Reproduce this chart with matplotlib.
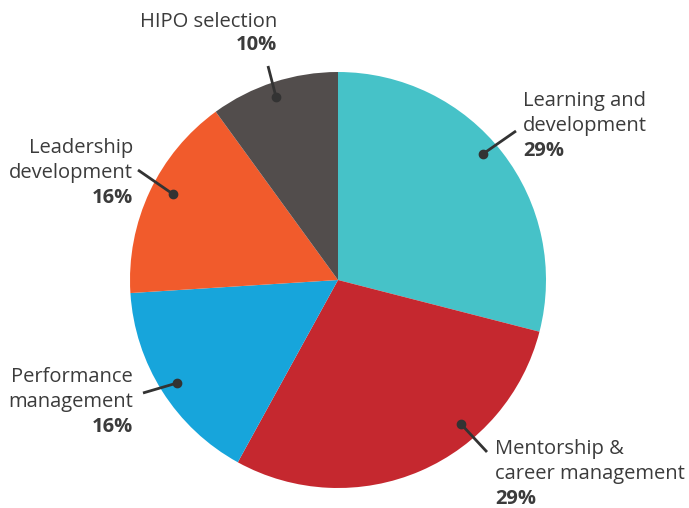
import matplotlib
matplotlib.use("Agg")
import matplotlib.pyplot as plt
import numpy as np

categories = ["Learning and\ndevelopment", "Mentorship &\ncareer management",
              "Performance\nmanagement", "Leadership\ndevelopment", "HIPO selection"]
values = [29, 29, 16, 16, 10]
colors = ["#46C2C8", "#C5282F", "#17A5DB", "#F15B2C", "#524D4C"]

# layout: dot angle (deg), dot radius frac, line end (px), text anchor (px), align
layout = [
    dict(ang=41, r=0.925, end=(516, 131), txt=(523, 101), ha="left"),
    dict(ang=-49.5, r=0.91, end=(487, 452), txt=(495, 449), ha="left"),
    dict(ang=212.6, r=0.92, end=(143, 393), txt=(133, 377), ha="right"),
    dict(ang=152.5, r=0.895, end=(138, 170), txt=(133, 148), ha="right"),
    dict(ang=108.7, r=0.93, end=(268, 66), txt=(277, 22), ha="right"),
]

W, H = 689, 508
fig = plt.figure(figsize=(W / 100, H / 100), dpi=100)
ax = fig.add_axes([0, 0, 1, 1])

cx, cy, R = 338, H - 280, 208
ax.pie(values, colors=colors, startangle=90, counterclock=False,
       center=(cx, cy), radius=R, frame=True,
       wedgeprops=dict(linewidth=0))
ax.set_xlim(0, W)
ax.set_ylim(0, H)
ax.set_aspect("equal")
ax.axis("off")

fam = ["Open Sans", "DejaVu Sans"]
tcol = "#3b3b3b"
for cat, val, lay in zip(categories, values, layout):
    a = np.deg2rad(lay["ang"])
    dx = cx + lay["r"] * R * np.cos(a)
    dy = cy + lay["r"] * R * np.sin(a)
    ex, ey = lay["end"][0], H - lay["end"][1]
    ax.plot([dx, ex], [dy, ey], color="#333333", lw=2, solid_capstyle="butt")
    ax.plot([dx], [dy], "o", color="#333333", ms=6)
    lines = cat.split("\n")
    tx, ty = lay["txt"]
    step = 25 if len(lines) > 1 else 23.5
    for i, ln in enumerate(lines):
        ax.text(tx, H - (ty + i * step), ln, ha=lay["ha"], va="center",
                fontsize=14.5, color=tcol, family=fam)
    ax.text(tx, H - (ty + len(lines) * step), f"{val}%", ha=lay["ha"], va="center",
            fontsize=14.5, color=tcol, family=fam, fontweight="bold")

fig.savefig("out.png", dpi=100)
